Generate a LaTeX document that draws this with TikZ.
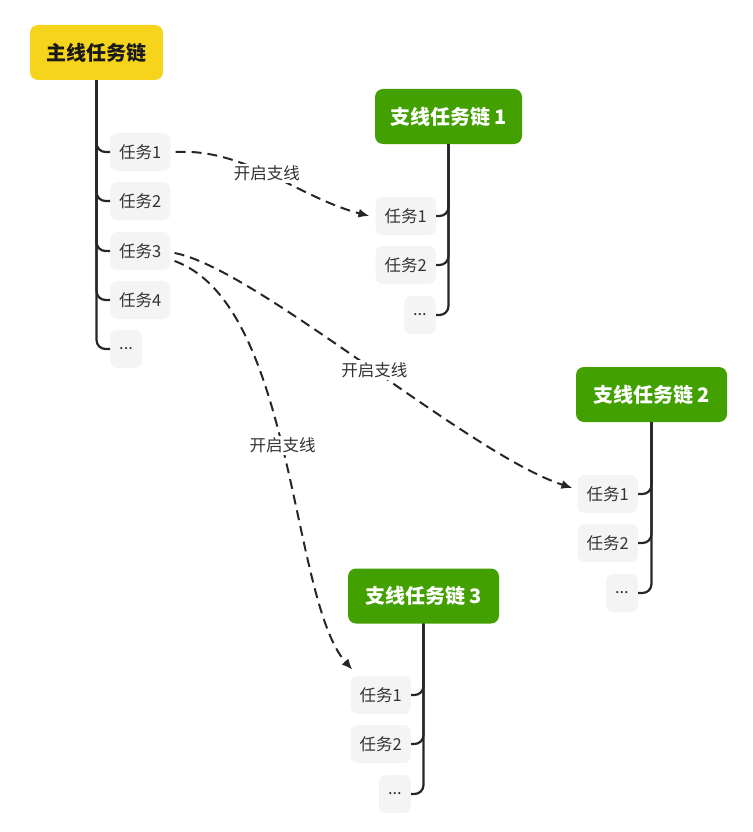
\documentclass[tikz,border=0pt]{standalone}
\usepackage{fontspec}
\setmainfont{Noto Sans CJK SC}
\usetikzlibrary{arrows.meta,calc}
\definecolor{yel}{HTML}{F6D41C}
\definecolor{grn}{HTML}{42A000}
\definecolor{taskgray}{HTML}{F4F4F4}
\definecolor{linec}{HTML}{262626}
\definecolor{txt}{HTML}{333333}
\begin{document}
\begin{tikzpicture}[x=1pt,y=-1pt,
  mainbox/.style={fill=yel, rounded corners=8pt, minimum height=55pt, minimum width=133pt, font=\fontsize{20}{24}\selectfont\bfseries, text=black!90},
  subbox/.style={fill=grn, rounded corners=8pt, minimum height=55pt, font=\fontsize{20}{24}\selectfont\bfseries, text=white},
  task/.style={fill=taskgray, rounded corners=7pt, minimum height=38pt, inner xsep=9pt, font=\fontsize{16.5}{20}\selectfont, text=txt},
  tree/.style={draw=linec, line width=2.2pt, rounded corners=9pt},
  link/.style={draw=linec, line width=2pt, dash pattern=on 10pt off 6pt, -{Latex[length=11pt,width=9pt]}},
  lbl/.style={fill=white, font=\fontsize{16.5}{20}\selectfont, text=txt, inner sep=2pt}]
\useasboundingbox (0,0) rectangle (752,832);
% main chain
\node[mainbox] (main) at (96.5,52.5) {主线任务链};
\node[task, anchor=west] (m1) at (110,152) {任务1};
\node[task, anchor=west] (m2) at (110,201) {任务2};
\node[task, anchor=west] (m3) at (110,251) {任务3};
\node[task, anchor=west] (m4) at (110,300) {任务4};
\node[task, anchor=west] (m5) at (110,349) {...};
\foreach \t in {m1,m2,m3,m4,m5} \draw[tree] (main.south) |- (\t.west);
% branch 1
\node[subbox, minimum width=147pt] (b1) at (448.5,116.5) {支线任务链 1};
\node[task, anchor=east] (b1t1) at (436,216) {任务1};
\node[task, anchor=east] (b1t2) at (436,265) {任务2};
\node[task, anchor=east] (b1t3) at (436,315) {...};
\foreach \t in {b1t1,b1t2,b1t3} \draw[tree] (b1.south) |- (\t.east);
% branch 2
\node[subbox, minimum width=151pt] (b2) at (651.5,394.5) {支线任务链 2};
\node[task, anchor=east] (b2t1) at (638,494) {任务1};
\node[task, anchor=east] (b2t2) at (638,543) {任务2};
\node[task, anchor=east] (b2t3) at (638,593) {...};
\foreach \t in {b2t1,b2t2,b2t3} \draw[tree] (b2.south) |- (\t.east);
% branch 3
\node[subbox, minimum width=151pt] (b3) at (423.5,596) {支线任务链 3};
\node[task, anchor=east] (b3t1) at (411,695) {任务1};
\node[task, anchor=east] (b3t2) at (411,744) {任务2};
\node[task, anchor=east] (b3t3) at (411,794) {...};
\foreach \t in {b3t1,b3t2,b3t3} \draw[tree] (b3.south) |- (\t.east);
% links
\draw[link] ([shift={(5,0)}]m1.east) .. controls (245,148) and (300,198) .. ([shift={(-6,0)}]b1t1.west) node[lbl, pos=0.47] {开启支线};
\draw[link] ([shift={(4,2)}]m3.east) .. controls (255,268) and (470,455) .. ([shift={(-5,-6)}]b2t1.west) node[lbl, pos=0.52] {开启支线};
\draw[link] ([shift={(4,10)}]m3.east) .. controls (295,305) and (290,600) .. ([shift={(2,-6)}]b3t1.north west) node[lbl, pos=0.48] {开启支线};
\end{tikzpicture}
\end{document}
